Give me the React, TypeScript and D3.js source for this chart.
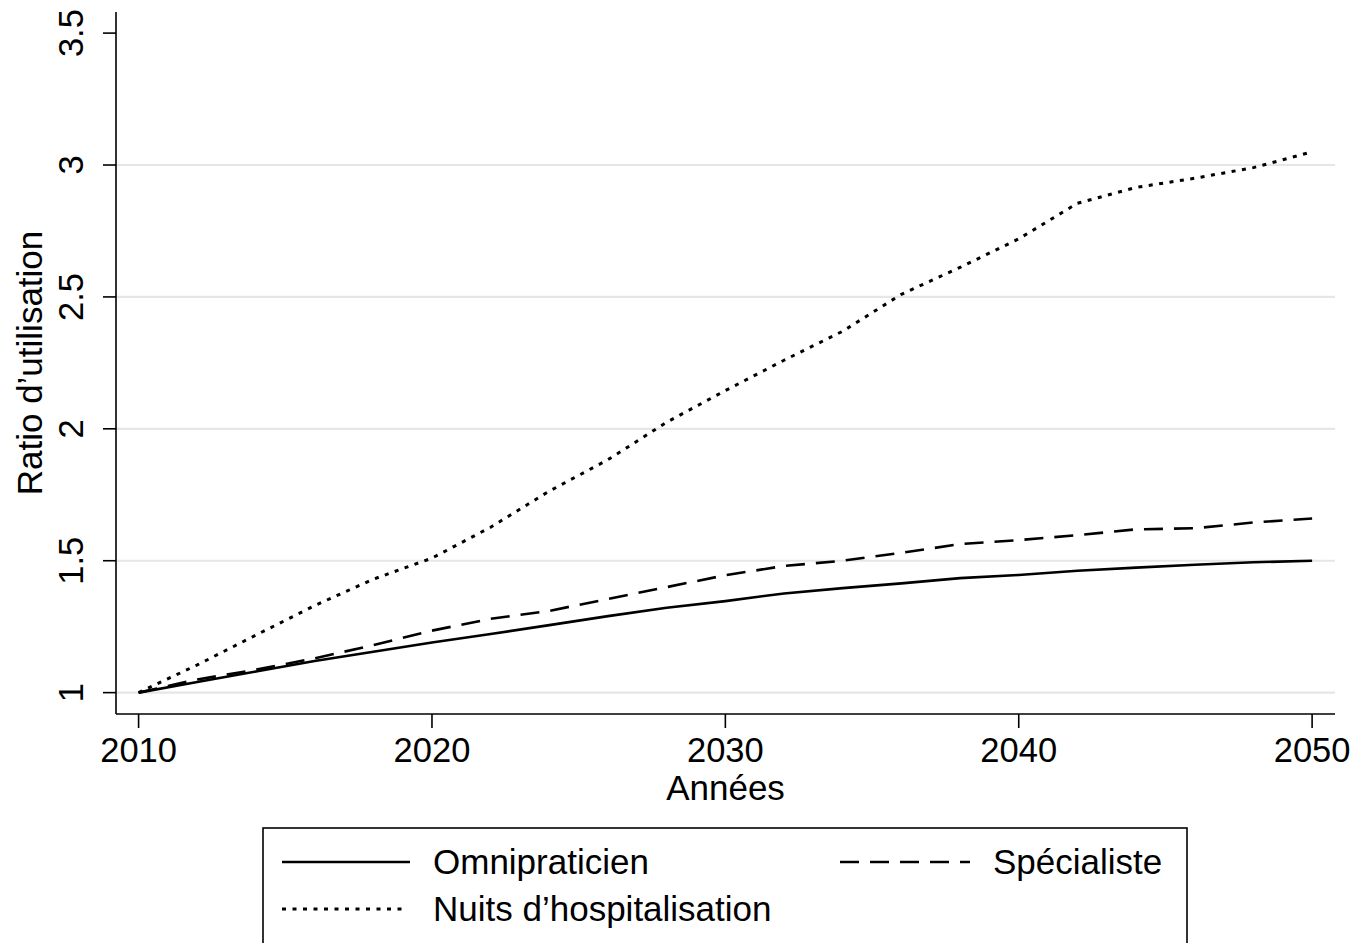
import React from "react";
import * as d3 from "d3";

// Projection years (every two years)
const years = [2010, 2012, 2014, 2016, 2018, 2020, 2022, 2024, 2026, 2028, 2030, 2032, 2034, 2036, 2038, 2040, 2042, 2044, 2046, 2048, 2050];

// Utilisation ratios relative to 2010
const omnipraticien = [1.0, 1.04, 1.08, 1.12, 1.155, 1.19, 1.222, 1.256, 1.29, 1.322, 1.347, 1.376, 1.396, 1.414, 1.434, 1.446, 1.462, 1.474, 1.485, 1.494, 1.5];
const specialiste = [1.0, 1.05, 1.087, 1.13, 1.18, 1.235, 1.28, 1.31, 1.355, 1.4, 1.445, 1.48, 1.5, 1.53, 1.563, 1.578, 1.597, 1.619, 1.623, 1.645, 1.66];
const nuits = [1.0, 1.105, 1.218, 1.33, 1.43, 1.51, 1.627, 1.764, 1.883, 2.025, 2.145, 2.26, 2.37, 2.51, 2.612, 2.72, 2.855, 2.915, 2.95, 2.99, 3.05];

const xTicks = [2010, 2020, 2030, 2040, 2050];
const yTicks = [1, 1.5, 2, 2.5, 3, 3.5];
const yGrid = [1, 1.5, 2, 2.5, 3];

const FONT = "'Liberation Sans', Arial, Helvetica, sans-serif";

const W = 1356;
const H = 943;
const left = 116;
const right = 1335;
const top = 12;
const bottom = 714;

const x = d3.scaleLinear().domain([2009.23, 2050.78]).range([left, right]);
const y = d3.scaleLinear().domain([0.919, 3.58]).range([bottom, top]);

const line = d3
  .line<number>()
  .x((_, i) => x(years[i]))
  .y((v) => y(v));

const series = [
  { name: "Omnipraticien", values: omnipraticien, dash: undefined as string | undefined, width: 2.6 },
  { name: "Spécialiste", values: specialiste, dash: "19,11", width: 2.6 },
  { name: "Nuits d’hospitalisation", values: nuits, dash: "4,6.5", width: 3 },
];

export default function App() {
  const tickFont = 34.5;
  const titleFont = 35;
  return (
    <svg
      width={W}
      height={H}
      viewBox={`0 0 ${W} ${H}`}
      style={{ position: "absolute", left: 0, top: 0, display: "block", background: "#fff" }}
    >
      <rect x={0} y={0} width={W} height={H} fill="#fff" />

      {/* horizontal grid */}
      {yGrid.map((t) => (
        <line key={"g" + t} x1={left} x2={right} y1={y(t)} y2={y(t)} stroke="#e6e6e6" strokeWidth={2.2} />
      ))}

      {/* series */}
      {series.map((s) => (
        <path
          key={s.name}
          d={line(s.values) || ""}
          fill="none"
          stroke="#000"
          strokeWidth={s.width}
          strokeDasharray={s.dash}
          strokeLinejoin="round"
        />
      ))}

      {/* axes */}
      <line x1={left} x2={left} y1={top} y2={bottom} stroke="#000" strokeWidth={1.6} />
      <line x1={left} x2={right} y1={bottom} y2={bottom} stroke="#000" strokeWidth={1.6} />

      {yTicks.map((t) => (
        <g key={"y" + t}>
          <line x1={left - 13} x2={left} y1={y(t)} y2={y(t)} stroke="#000" strokeWidth={1.6} />
          <text
            transform={`translate(83,${y(t)}) rotate(-90)`}
            textAnchor="middle"
            fontFamily={FONT}
            fontSize={tickFont}
            fill="#000"
          >
            {String(t)}
          </text>
        </g>
      ))}

      {xTicks.map((t) => (
        <g key={"x" + t}>
          <line x1={x(t)} x2={x(t)} y1={bottom} y2={bottom + 14} stroke="#000" strokeWidth={1.6} />
          <text x={x(t)} y={762} textAnchor="middle" fontFamily={FONT} fontSize={tickFont} fill="#000">
            {String(t)}
          </text>
        </g>
      ))}

      {/* axis titles */}
      <text x={(left + right) / 2} y={800} textAnchor="middle" fontFamily={FONT} fontSize={titleFont} fill="#000">
        Années
      </text>
      <text
        transform={`translate(42,${(top + bottom) / 2}) rotate(-90)`}
        textAnchor="middle"
        fontFamily={FONT}
        fontSize={titleFont}
        fill="#000"
      >
        Ratio d’utilisation
      </text>

      {/* legend */}
      <rect x={263} y={828} width={924} height={140} fill="#fff" stroke="#000" strokeWidth={1.6} />
      <line x1={282} x2={410} y1={862} y2={862} stroke="#000" strokeWidth={2.6} />
      <text x={433} y={874} fontFamily={FONT} fontSize={titleFont} fill="#000">
        Omnipraticien
      </text>
      <line x1={840} x2={970} y1={862} y2={862} stroke="#000" strokeWidth={2.6} strokeDasharray="19,11" />
      <text x={993} y={874} fontFamily={FONT} fontSize={titleFont} fill="#000">
        Spécialiste
      </text>
      <line x1={282} x2={405} y1={909} y2={909} stroke="#000" strokeWidth={3} strokeDasharray="4,6.5" />
      <text x={433} y={921} fontFamily={FONT} fontSize={titleFont} fill="#000">
        Nuits d’hospitalisation
      </text>
    </svg>
  );
}
